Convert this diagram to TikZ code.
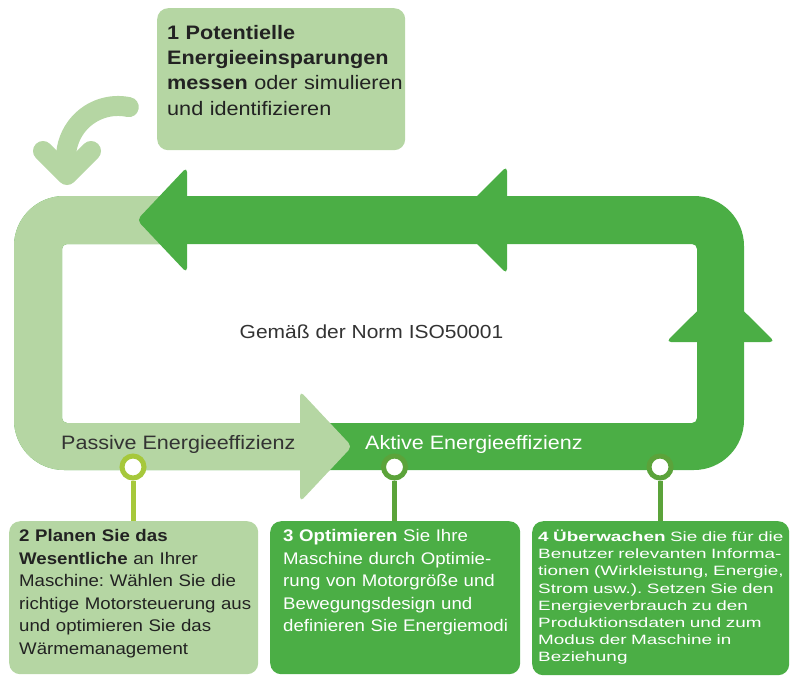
\documentclass[tikz,border=0pt]{standalone}
\usepackage{fontspec}
\setmainfont{Liberation Sans}
\newfontfamily\hf[FakeStretch=1.11]{Liberation Sans}
\newfontfamily\wf[FakeStretch=1.4]{Liberation Sans}
\frenchspacing
\definecolor{lt}{HTML}{B5D6A3}
\definecolor{dk}{HTML}{4BAE45}
\definecolor{ringa}{HTML}{A6C83B}
\definecolor{ringb}{HTML}{5BA33A}
\definecolor{ink}{HTML}{222222}
\definecolor{gray3}{HTML}{333333}
\tikzset{
  box/.style={rounded corners=11pt, anchor=north west, inner sep=0pt, draw=none},
  txt/.style={anchor=base west, inner sep=0pt, align=left, text width=300pt},
  dot/.style={circle, draw=#1, line width=5pt, fill=white, minimum size=22pt, inner sep=0pt},
  stem/.style={draw=#1, line width=5pt},
  tipfill/.style={fill=#1, rounded corners=5pt}
}
\begin{document}
\frenchspacing
\begin{tikzpicture}[x=1pt,y=-1pt]
\useasboundingbox (0,0) rectangle (795,675);

% loop
\fill[dk, even odd rule] [rounded corners=50pt] (14,196) rectangle (744,470)
  [rounded corners=5pt] (62,244) rectangle (697,423);
\begin{scope}
  \clip (0,0) -- (175,0) -- (175,330) -- (310,330) -- (310,675) -- (0,675) -- cycle;
  \fill[lt, even odd rule] [rounded corners=50pt] (14,196) rectangle (744,470)
    [rounded corners=5pt] (62,244) rectangle (697,423);
\end{scope}
% arrow heads
\fill[tipfill=dk] (187,167) -- (137,220) -- (187,273) -- cycle;
\fill[tipfill=dk] (507,166) -- (453,220) -- (507,274) -- cycle;
\fill[tipfill=dk] (666,342) -- (720.5,288) -- (775,342) -- cycle;
\fill[tipfill=lt] (300,391) -- (352,446.5) -- (300,502) -- cycle;

% curved arrow
\draw[lt, line width=20pt, line cap=round] (128.8,107.1) arc[start angle=78, end angle=180, radius=52pt] -- (66,172);
\draw[lt, line width=20pt, line cap=round, line join=round] (43,151) -- (67,175) -- (91,151);

% box 1
\node[box, fill=lt, minimum width=248pt, minimum height=142pt] (b1) at (157,8) {};
\node[txt, text=ink, font={\hf\fontsize{19.5}{25.2}\selectfont}] (t1) at (167,39.5)
  {\textbf{1 Potentielle}\\\textbf{Energieeinsparungen}\\\textbf{messen} oder simulieren\\und identifizieren};

% centre text
\node[anchor=base, inner sep=0pt, text=gray3, font={\hf\fontsize{18.9}{22}\selectfont}] (norm) at (371.5,338.3) {Gemäß der Norm ISO50001};
\node[anchor=base west, inner sep=0pt, text=gray3, font={\hf\fontsize{19.4}{22}\selectfont}] (pas) at (61,449) {Passive Energieeffizienz};
\node[anchor=base west, inner sep=0pt, text=white, font={\hf\fontsize{19.4}{22}\selectfont}] (akt) at (365,449) {Aktive Energieeffizienz};

% bottom boxes
\node[box, fill=lt, minimum width=249pt, minimum height=153pt] (b2) at (9,521) {};
\node[box, fill=dk, minimum width=250pt, minimum height=153pt] (b3) at (270,521) {};
\node[box, fill=dk, minimum width=257pt, minimum height=154pt] (b4) at (532,521) {};

\node[txt, text=ink, font={\hf\fontsize{16.8}{22.5}\selectfont}] (t2) at (19,541.7)
  {\textbf{2 Planen Sie das}\\\textbf{Wesentliche} an Ihrer\\Maschine: Wählen Sie die\\richtige Motorsteuerung aus\\und optimieren Sie das\\Wärmemanagement};
\node[txt, text=white, font={\hf\fontsize{16.8}{22.5}\selectfont}] (t3) at (283,541.7)
  {\textbf{3 Optimieren} Sie Ihre\\Maschine durch Optimie-\\rung von Motorgröße und\\Bewegungsdesign und\\definieren Sie Energiemodi};
\node[txt, text=white, font={\wf\fontsize{13.5}{17.1}\selectfont}] (t4) at (538,541.7)
  {\textbf{4 Überwachen} Sie die für die\\Benutzer relevanten Informa-\\tionen (Wirkleistung, Energie,\\Strom usw.). Setzen Sie den\\Energieverbrauch zu den\\Produktionsdaten und zum\\Modus der Maschine in\\Beziehung};

% markers and stems
\node[dot=ringa] (c1) at (133,467) {};
\node[dot=ringb] (c2) at (394.5,467) {};
\node[dot=ringb] (c3) at (660,467) {};
\draw[stem=ringa] (c1) -- (c1 |- b2.north);
\draw[stem=ringb] (c2) -- (c2 |- b3.north);
\draw[stem=ringb] (c3) -- (c3 |- b4.north);
\end{tikzpicture}
\end{document}
